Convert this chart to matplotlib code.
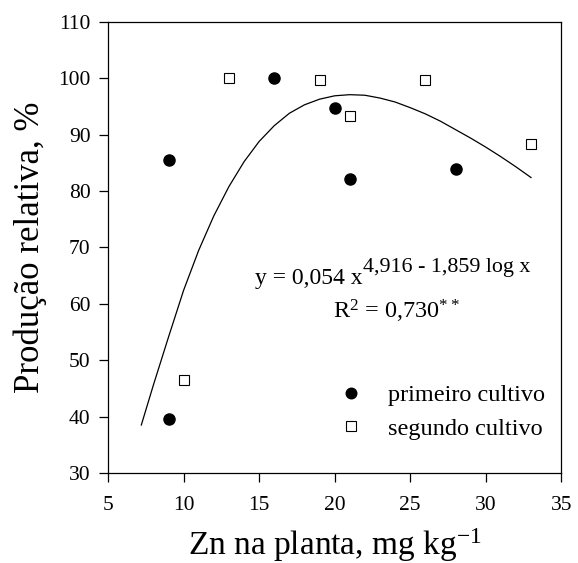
import matplotlib
matplotlib.use('Agg')
import matplotlib.pyplot as plt

# Dados
zn_primeiro = [9, 9, 16, 20, 21, 28]
prod_primeiro = [85.5, 39.5, 100.0, 94.8, 82.1, 84.0]

zn_segundo = [10, 13, 19, 21, 26, 33]
prod_segundo = [46.4, 100.0, 99.7, 93.4, 99.7, 88.4]

# Curva ajustada
curva_x = [7.2, 8, 9, 10, 11, 12, 13, 14, 15, 16, 17, 18, 19, 20, 21, 22,
           23, 24, 25, 26, 27, 28, 29, 30, 31, 32, 33]
curva_y = [38.5, 45.6, 54.1, 62.4, 69.5, 75.6, 80.8, 85.2, 88.8, 91.6, 93.8,
           95.3, 96.3, 96.9, 97.1, 97.0, 96.5, 95.8, 94.8, 93.7, 92.4, 90.9,
           89.4, 87.8, 86.1, 84.3, 82.4]

x_ticks = [5, 10, 15, 20, 25, 30, 35]
y_ticks = [30, 40, 50, 60, 70, 80, 90, 100, 110]

plt.rcParams['font.family'] = ['Liberation Serif', 'DejaVu Serif']
plt.rcParams['mathtext.fontset'] = 'custom'
plt.rcParams['mathtext.rm'] = 'Liberation Serif'
plt.rcParams['mathtext.it'] = 'Liberation Serif'

fig = plt.figure(figsize=(5.78, 5.63), dpi=100)
ax = fig.add_axes([0.187, 0.160, 0.784, 0.801])

ax.plot(curva_x, curva_y, color='black', lw=0.9)
ax.plot(zn_primeiro, prod_primeiro, 'o', color='black', ms=8,
        label='primeiro cultivo')
ax.plot(zn_segundo, prod_segundo, 's', mfc='white', mec='black', mew=0.8,
        ms=7, label='segundo cultivo')

ax.set_xlim(5, 35)
ax.set_ylim(30, 110)
ax.set_xticks(x_ticks)
ax.set_yticks(y_ticks)
ax.tick_params(direction='out', length=6.5, width=0.9, labelsize=15.5)
ax.tick_params(axis='y', pad=6)
ax.tick_params(axis='x', pad=10)
for s in ax.spines.values():
    s.set_linewidth(0.9)

ax.set_xlabel(r'Zn na planta, mg kg$^{\mathrm{-1}}$', fontsize=24, labelpad=8)
ax.set_ylabel('Produção relativa, %', fontsize=25, labelpad=8)

# equação
eq = ax.text(14.7, 63.5, 'y = 0,054 x', fontsize=17, ha='left',
             va='baseline')
ax.annotate('4,916 - 1,859 log x', xy=(1, 0), xycoords=eq,
            xytext=(0.5, 12.5), textcoords='offset points', fontsize=15.8,
            ha='left', va='baseline')
ax.text(19.9, 57.4, r'R$^{2}$ = 0,730$^{**}$', fontsize=17.5, ha='left',
        va='baseline')

ax.legend(loc='lower right', bbox_to_anchor=(0.985, 0.052), frameon=False,
          fontsize=17.5, handletextpad=0.7, labelspacing=0.47, markerscale=0.95,
          borderaxespad=0, handlelength=1.6)

fig.savefig('out.png', dpi=100)
